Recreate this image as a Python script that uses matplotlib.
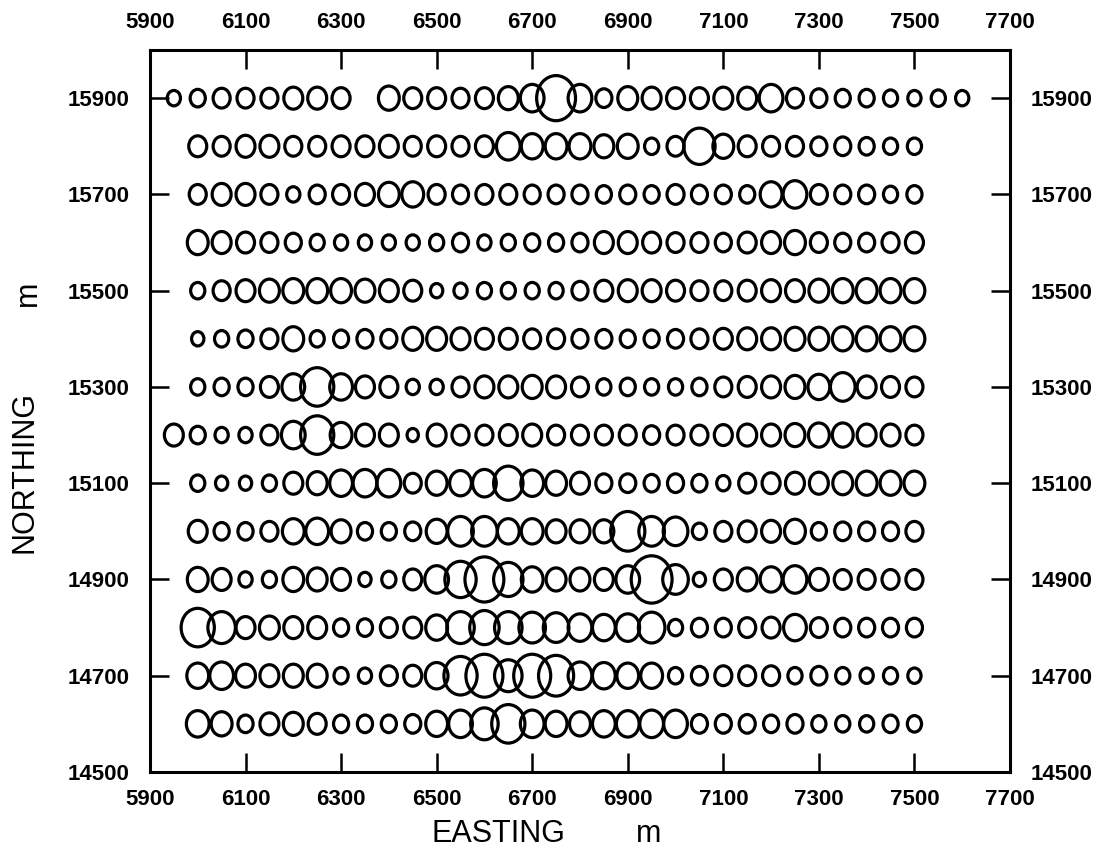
"""Proportional-circle map of survey stations on a 50 m easting grid."""

import matplotlib

matplotlib.use("Agg")
import matplotlib.pyplot as plt
from matplotlib.path import Path
from matplotlib.transforms import Affine2D

# station eastings (m) along every traverse line
EASTINGS = [5950, 6000, 6050, 6100, 6150, 6200, 6250, 6300, 6350, 6400,
            6450, 6500, 6550, 6600, 6650, 6700, 6750, 6800, 6850, 6900,
            6950, 7000, 7050, 7100, 7150, 7200, 7250, 7300, 7350, 7400,
            7450, 7500, 7550, 7600]

# symbol value per station, one list per line (None = no reading)
N15900 = [11, 13, 15, 15, 15, 17, 17, 16, None, 19, 16, 16, 15, 16, 18, 22,
          38, 22, 14, 18, 17, 16, 16, 17, 17, 22, 15, 14, 13, 13, 12, 11,
          12, 11]
N15800 = [None, 16, 15, 17, 17, 15, 15, 16, 16, 17, 15, 16, 15, 16, 22, 20,
          20, 20, 18, 19, 12, 15, 30, 19, 16, 15, 15, 14, 14, 13, 12, 12,
          None, None]
N15700 = [None, 15, 17, 17, 15, 11, 14, 15, 17, 19, 20, 15, 14, 15, 15, 14,
          14, 14, 13, 14, 13, 15, 14, 14, 13, 20, 22, 15, 14, 14, 12, 13,
          None, None]
N15600 = [None, 19, 17, 16, 15, 14, 12, 11, 11, 11, 11, 12, 14, 11, 12, 13,
          13, 14, 17, 17, 16, 15, 15, 14, 16, 17, 19, 15, 14, 14, 15, 16,
          None, None]
N15500 = [None, 12, 15, 17, 18, 19, 19, 19, 18, 17, 16, 10, 11, 12, 12, 12,
          12, 14, 16, 17, 17, 16, 15, 15, 16, 17, 17, 18, 19, 19, 19, 19,
          None, None]
N15400 = [None, 10, 12, 13, 15, 19, 12, 13, 14, 14, 18, 18, 17, 16, 16, 15,
          15, 14, 14, 13, 13, 14, 15, 16, 17, 17, 18, 18, 19, 19, 19, 19,
          None, None]
N15300 = [None, 12, 13, 13, 16, 21, 32, 21, 17, 16, 11, 11, 15, 17, 17, 18,
          17, 15, 12, 13, 12, 12, 13, 15, 16, 17, 18, 20, 23, 17, 16, 15,
          None, None]
N15200 = [17, 13, 11, 11, 15, 22, 32, 20, 17, 17, 9, 17, 15, 15, 16, 17,
          15, 15, 15, 15, 14, 15, 15, 16, 17, 17, 18, 19, 19, 17, 17, 15,
          None, None]
N15100 = [None, 12, 10, 10, 12, 17, 18, 21, 22, 22, 15, 19, 20, 22, 28, 21,
          19, 17, 14, 14, 13, 14, 13, 11, 15, 16, 17, 17, 18, 19, 19, 19,
          None, None]
N15000 = [None, 17, 13, 13, 15, 20, 21, 18, 13, 13, 14, 19, 24, 24, 20, 20,
          18, 18, 18, 33, 24, 23, 12, 15, 16, 17, 19, 13, 14, 14, 14, 15,
          None, None]
N14900 = [None, 19, 17, 11, 12, 19, 18, 17, 10, 12, 16, 22, 30, 38, 28, 20,
          18, 18, 17, 22, 40, 24, 10, 16, 18, 20, 22, 17, 15, 15, 15, 15,
          None, None]
N14800 = [None, 32, 26, 17, 18, 17, 17, 13, 13, 15, 16, 20, 26, 28, 26, 25,
          24, 22, 21, 22, 25, 12, 14, 14, 15, 16, 21, 15, 14, 14, 14, 14,
          None, None]
N14700 = [None, 20, 22, 18, 17, 18, 18, 12, 11, 15, 16, 21, 32, 36, 26, 36,
          34, 22, 21, 20, 20, 12, 14, 15, 15, 15, 12, 14, 12, 11, 12, 11,
          None, None]
N14600 = [None, 21, 19, 13, 17, 18, 16, 13, 13, 13, 14, 20, 22, 26, 32, 22,
          20, 19, 21, 21, 22, 22, 14, 14, 14, 13, 14, 12, 12, 12, 13, 12,
          None, None]

LINES = [(15900, N15900), (15800, N15800), (15700, N15700), (15600, N15600),
         (15500, N15500), (15400, N15400), (15300, N15300), (15200, N15200),
         (15100, N15100), (15000, N15000), (14900, N14900), (14800, N14800),
         (14700, N14700), (14600, N14600)]

X_TICKS = [5900, 6100, 6300, 6500, 6700, 6900, 7100, 7300, 7500, 7700]
Y_TICKS = [14500, 14700, 14900, 15100, 15300, 15500, 15700, 15900]

LW = 2.3        # symbol outline, points
STRETCH = 1.16  # symbols are a touch taller than wide
oval = Path.unit_circle().transformed(Affine2D().scale(1.0, STRETCH))


def marker_area(value):
    """Symbol value -> scatter area (pt^2) of the oval marker."""
    outer_px = 6.0 + 0.95 * value         # overall symbol width in pixels
    path_px = outer_px - LW / 0.72        # take off the outline
    return (path_px * STRETCH * 0.72) ** 2


plt.rcParams["font.family"] = ["DejaVu Sans"]

fig = plt.figure(figsize=(11.1, 8.55), dpi=100)
ax = fig.add_axes([0.1351, 0.0971, 0.7748, 0.8444])

for northing, sizes in LINES:
    xs = [e for e, d in zip(EASTINGS, sizes) if d is not None]
    s = [marker_area(d) for d in sizes if d is not None]
    ax.scatter(xs, [northing] * len(xs), s=s, marker=oval,
               facecolors="none", edgecolors="black", linewidths=LW)

ax.set_xlim(5900, 7700)
ax.set_ylim(14500, 16000)
ax.set_xticks(X_TICKS)
ax.set_yticks(Y_TICKS)
ax.tick_params(direction="in", length=14, width=1.8, top=True, right=True,
               labeltop=True, labelright=True, pad=15)
ax.tick_params(axis="x", which="major", pad=12)
for t in ax.xaxis.get_major_ticks() + ax.yaxis.get_major_ticks():
    for lab in (t.label1, t.label2):
        lab.set_fontfamily(["Liberation Sans", "DejaVu Sans"])
        lab.set_fontweight("bold")
        lab.set_fontsize(16)
for sp in ax.spines.values():
    sp.set_linewidth(2.2)

label_font = dict(family=["Liberation Sans", "DejaVu Sans"], fontsize=22)
fig.text(0.449, 0.015, "EASTING", ha="center", va="baseline", **label_font)
fig.text(0.584, 0.015, "m", ha="center", va="baseline", **label_font)
fig.text(0.022, 0.448, "NORTHING", ha="center", va="center", rotation=90,
         **label_font)
fig.text(0.025, 0.657, "m", ha="center", va="center", rotation=90,
         **label_font)

fig.savefig("out.png", dpi=100)
